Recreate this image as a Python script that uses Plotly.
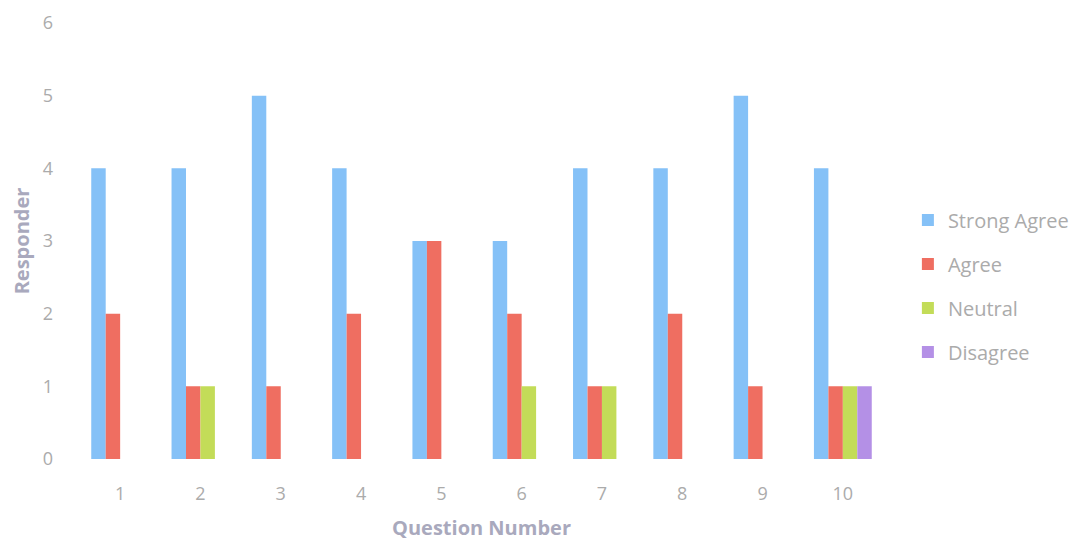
import plotly.graph_objects as go

# ── data ──────────────────────────────────────────────────────────────────────
questions = ["1", "2", "3", "4", "5", "6", "7", "8", "9", "10"]
strong_agree = [4, 4, 5, 4, 3, 3, 4, 4, 5, 4]
agree        = [2, 1, 1, 2, 3, 2, 1, 2, 1, 1]
neutral      = [0, 1, 0, 0, 0, 1, 1, 0, 0, 1]
disagree     = [0, 0, 0, 0, 0, 0, 0, 0, 0, 1]

series = [
    ("Strong Agree", strong_agree, "#85c1f7"),
    ("Agree",        agree,        "#ef6e61"),
    ("Neutral",      neutral,      "#c3dc58"),
    ("Disagree",     disagree,     "#b490e6"),
]

_C_TICK  = "#ababab"
_C_TITLE = "#a9a9bd"
_FONT    = "Open Sans"

fig = go.Figure()
for name, vals, col in series:
    fig.add_trace(go.Bar(
        x=questions, y=vals, name=name,
        marker=dict(color=col, line=dict(width=0)),
        legendgroup=name,
    ))

fig.update_layout(
    width=1078, height=545,
    margin=dict(l=72, r=200, t=15, b=94),
    paper_bgcolor="white", plot_bgcolor="white",
    barmode="group", bargap=0.28, bargroupgap=0,
    font=dict(family=_FONT, color=_C_TICK, size=18),
    legend=dict(
        x=1.031, y=0.397, xanchor="left", yanchor="middle",
        font=dict(size=20, color=_C_TICK),
        tracegroupgap=15, itemwidth=30,
    ),
    xaxis=dict(
        title=dict(text="<b>Question Number</b>", standoff=16,
                   font=dict(size=20, color=_C_TITLE)),
        showgrid=False, showline=False, zeroline=False,
        ticks="", ticklabelstandoff=22, automargin=False,
        tickfont=dict(size=18, color=_C_TICK),
    ),
    yaxis=dict(
        title=dict(text="<b>Responder</b>", standoff=12,
                   font=dict(size=20, color=_C_TITLE)),
        range=[0, 6], dtick=1,
        showgrid=False, showline=False, zeroline=False,
        ticks="", ticklabelstandoff=26, automargin=False,
        tickfont=dict(size=18, color=_C_TICK),
    ),
)

fig.write_html("out.html")
